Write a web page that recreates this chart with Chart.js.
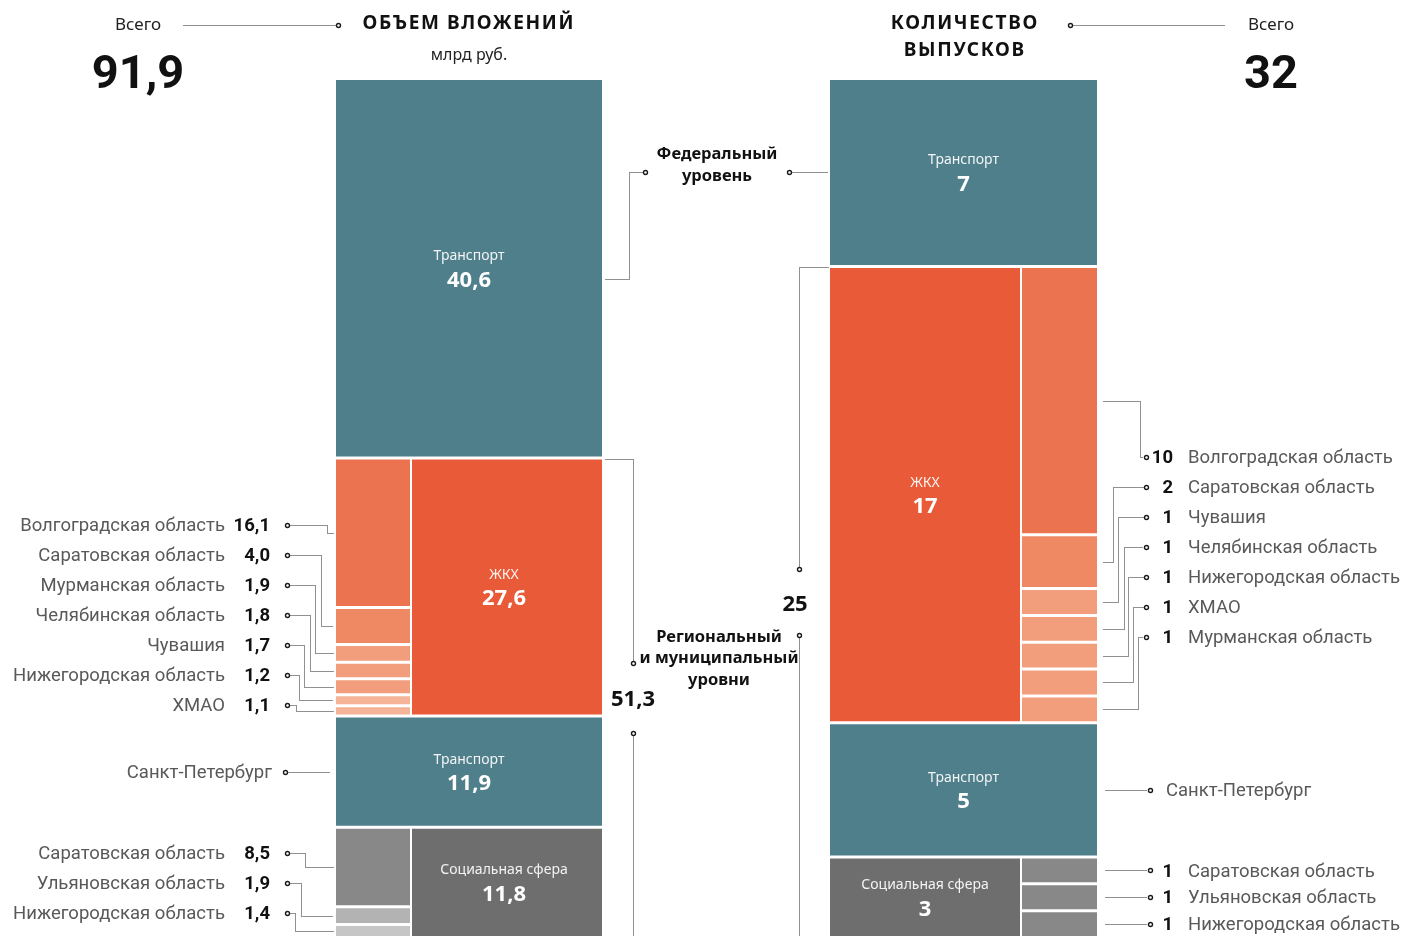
<!DOCTYPE html>
<html lang="ru">
<head>
<meta charset="utf-8">
<script src="https://cdn.jsdelivr.net/npm/chart.js@4/dist/chart.umd.min.js"></script>
<style>
  html, body { margin: 0; padding: 0; background: #fff; }
  #wrap { width: 1403px; height: 936px; overflow: hidden; position: relative; }
  canvas { display: block; }
</style>
</head>
<body>
<div id="wrap"><canvas id="c" width="1403" height="938"></canvas></div>
<script>
// ---------------- DATA ----------------
const sectors = ['Транспорт', 'ЖКХ', 'Транспорт', 'Социальная сфера'];
const investValues = [40.6, 27.6, 11.9, 11.8];   // млрд руб.
const issueValues = [7, 17, 5, 3];               // количество выпусков

const transportRegion = 'Санкт-Петербург';

const investHousingRegions = ['Волгоградская область', 'Саратовская область', 'Мурманская область',
  'Челябинская область', 'Чувашия', 'Нижегородская область', 'ХМАО'];
const investHousingValues = [16.1, 4.0, 1.9, 1.8, 1.7, 1.2, 1.1];

const investSocialRegions = ['Саратовская область', 'Ульяновская область', 'Нижегородская область'];
const investSocialValues = [8.5, 1.9, 1.4];

const issueHousingRegions = ['Волгоградская область', 'Саратовская область', 'Чувашия',
  'Челябинская область', 'Нижегородская область', 'ХМАО', 'Мурманская область'];
const issueHousingValues = [10, 2, 1, 1, 1, 1, 1];

const issueSocialRegions = ['Саратовская область', 'Ульяновская область', 'Нижегородская область'];
const issueSocialValues = [1, 1, 1];

// ---------------- STYLE / LAYOUT ----------------
const TEAL = '#507f8c', ORANGE = '#e85a38', GRAY = '#6e6e6e';
const housingShadesL = ['#ec7350', '#ef8964', '#f29e7d', '#f29e7d', '#f29e7d', '#f5b397', '#f5b397'];
const socialShadesL = ['#888888', '#b3b3b3', '#c6c6c6'];
const housingShadesR = ['#ec7350', '#ef8964', '#f29e7d', '#f29e7d', '#f29e7d', '#f29e7d', '#f29e7d'];
const socialShadesR = ['#888888', '#888888', '#888888'];

const L = { full: { x: 469, w: 266 }, narrow: { x: 373.5, w: 75 }, wide: { x: 506.5, w: 191 } };
const R = { full: { x: 963.5, w: 267 }, wide: { x: 925.5, w: 191 }, narrow: { x: 1059, w: 76 } };

function ranges(values) { let s = 0; return values.map(v => { const r = [s, s + v]; s += v; return r; }); }
function subRanges(parent, values) {
  const tot = values.reduce((a, b) => a + b, 0);
  const k = (parent[1] - parent[0]) / tot;
  let s = parent[0];
  return values.map(v => { const r = [s, s + v * k]; s += v * k; return r; });
}
const sum = a => a.reduce((x, y) => x + y, 0);
const fmt1 = v => v.toFixed(1).replace('.', ',');
const fmt0 = v => String(Math.round(v));

const invR = ranges(investValues);
const issR = ranges(issueValues);
const invHousR = subRanges(invR[1], investHousingValues);
const invSocR = subRanges(invR[3], investSocialValues);
const issHousR = subRanges(issR[1], issueHousingValues);
const issSocR = subRanges(issR[3], issueSocialValues);

const common = { stack: 'one', borderColor: '#ffffff', borderSkipped: false, inflateAmount: 0 };
const datasets = [
  { ...common, label: 'inv-full', yAxisID: 'yL', barThickness: L.full.w,
    data: [{ x: L.full.x, y: invR[0] }, { x: L.full.x, y: invR[2] }],
    backgroundColor: [TEAL, TEAL], borderWidth: { top: 1.5, bottom: 1.5, left: 0, right: 0 } },
  { ...common, label: 'inv-wide', yAxisID: 'yL', barThickness: L.wide.w,
    data: [{ x: L.wide.x, y: invR[1] }, { x: L.wide.x, y: invR[3] }],
    backgroundColor: [ORANGE, GRAY], borderWidth: { top: 1.5, bottom: 1.5, left: 1, right: 0 } },
  { ...common, label: 'inv-narrow', yAxisID: 'yL', barThickness: L.narrow.w,
    data: invHousR.concat(invSocR).map(r => ({ x: L.narrow.x, y: r })),
    backgroundColor: housingShadesL.concat(socialShadesL), borderWidth: { top: 1.5, bottom: 1.5, left: 0, right: 1 } },
  { ...common, label: 'iss-full', yAxisID: 'yR', barThickness: R.full.w,
    data: [{ x: R.full.x, y: issR[0] }, { x: R.full.x, y: issR[2] }],
    backgroundColor: [TEAL, TEAL], borderWidth: { top: 1.5, bottom: 1.5, left: 0, right: 0 } },
  { ...common, label: 'iss-wide', yAxisID: 'yR', barThickness: R.wide.w,
    data: [{ x: R.wide.x, y: issR[1] }, { x: R.wide.x, y: issR[3] }],
    backgroundColor: [ORANGE, GRAY], borderWidth: { top: 1.5, bottom: 1.5, left: 0, right: 1 } },
  { ...common, label: 'iss-narrow', yAxisID: 'yR', barThickness: R.narrow.w,
    data: issHousR.concat(issSocR).map(r => ({ x: R.narrow.x, y: r })),
    backgroundColor: housingShadesR.concat(socialShadesR), borderWidth: { top: 1.5, bottom: 1.5, left: 1, right: 0 } }
];

// ---------------- ANNOTATIONS ----------------
const F_SANS = '"Noto Sans", "Open Sans", sans-serif';
const F_ROBO = 'Roboto, "Noto Sans", sans-serif';

function txt(ctx, s, x, y, font, color, align, spacing) {
  ctx.save();
  ctx.font = font; ctx.fillStyle = color; ctx.textAlign = align || 'center'; ctx.textBaseline = 'middle';
  if (spacing) {
    ctx.letterSpacing = spacing + 'px';
    if (ctx.textAlign === 'center') x += spacing / 2;
  }
  ctx.fillText(s, x, y);
  ctx.restore();
}
function dotted(ctx, pts, color) {
  ctx.save();
  ctx.setLineDash([1, 1]); ctx.strokeStyle = color || '#222'; ctx.lineWidth = 1;
  ctx.beginPath();
  pts.forEach((p, i) => {
    const X = Math.round(p[0]) + 0.5, Y = Math.round(p[1]) + 0.5;
    i ? ctx.lineTo(X, Y) : ctx.moveTo(X, Y);
  });
  ctx.stroke();
  ctx.restore();
}
function dot(ctx, x, y) {
  ctx.save();
  ctx.beginPath(); ctx.arc(Math.round(x) + 0.5, Math.round(y) + 0.5, 2, 0, Math.PI * 2);
  ctx.fillStyle = '#fff'; ctx.fill();
  ctx.lineWidth = 1.4; ctx.strokeStyle = '#1a1a1a'; ctx.stroke();
  ctx.restore();
}
const mid = (scale, r) => scale.getPixelForValue((r[0] + r[1]) / 2);

const annot = {
  id: 'annot',
  afterDraw(chart) {
    const ctx = chart.ctx;
    const yL = chart.scales.yL, yR = chart.scales.yR;
    const NAME = '18.5px ' + F_ROBO, VAL = 'bold 18.5px ' + F_ROBO;
    const NAMEC = '#595959', VALC = '#111';
    const d = 1.5; // vertical optical offset for label text

    // headers
    txt(ctx, 'Всего', 138, 25, '17px ' + F_SANS, '#222');
    txt(ctx, fmt1(sum(investValues)), 138, 76, 'bold 47px ' + F_ROBO, '#111');
    dotted(ctx, [[183, 25], [336, 25]]); dot(ctx, 338, 25);
    txt(ctx, 'ОБЪЕМ ВЛОЖЕНИЙ', 468, 24, 'bold 19px ' + F_SANS, '#111', 'center', 1.6);
    txt(ctx, 'млрд руб.', 469, 55, '16px ' + F_SANS, '#222');

    txt(ctx, 'КОЛИЧЕСТВО', 964, 24, 'bold 19px ' + F_SANS, '#111', 'center', 1.7);
    txt(ctx, 'ВЫПУСКОВ', 964, 51, 'bold 19px ' + F_SANS, '#111', 'center', 1.7);
    dot(ctx, 1070, 25); dotted(ctx, [[1073, 25], [1225, 25]]);
    txt(ctx, 'Всего', 1271, 25, '17px ' + F_SANS, '#222');
    txt(ctx, fmt0(sum(issueValues)), 1271, 76, 'bold 47px ' + F_ROBO, '#111');

    // block labels
    const blockLabel = (name, value, x, y) => {
      txt(ctx, name, x, y - 12, '14px ' + F_SANS, 'rgba(255,255,255,0.92)');
      txt(ctx, value, x, y + 12, 'bold 22px ' + F_SANS, '#fff');
    };
    blockLabel(sectors[0], fmt1(investValues[0]), L.full.x, mid(yL, invR[0]));
    blockLabel(sectors[1], fmt1(investValues[1]), 504, mid(yL, invR[1]));
    blockLabel(sectors[2], fmt1(investValues[2]), L.full.x, mid(yL, invR[2]));
    blockLabel(sectors[3], fmt1(investValues[3]), 504, mid(yL, invR[3]));
    blockLabel(sectors[0], fmt0(issueValues[0]), R.full.x, mid(yR, issR[0]));
    blockLabel(sectors[1], fmt0(issueValues[1]), 925, mid(yR, issR[1]));
    blockLabel(sectors[2], fmt0(issueValues[2]), R.full.x, mid(yR, issR[2]));
    blockLabel(sectors[3], fmt0(issueValues[3]), 925, mid(yR, issR[3]));

    // federal level
    const fedY = mid(yR, issR[0]);
    txt(ctx, 'Федеральный', 717, 154, 'bold 16.5px ' + F_SANS, '#111');
    txt(ctx, 'уровень', 717, 176, 'bold 16.5px ' + F_SANS, '#111');
    dotted(ctx, [[605, 279], [629, 279], [629, fedY], [643, fedY]]); dot(ctx, 645, fedY);
    dot(ctx, 789, fedY); dotted(ctx, [[792, fedY], [828, fedY]]);

    // regional level
    const regL = yL.getPixelForValue(invR[1][0]) + 1;
    const regR = yR.getPixelForValue(issR[1][0]) + 1;
    txt(ctx, 'Региональный', 719, 637, 'bold 16.5px ' + F_SANS, '#111');
    txt(ctx, 'и муниципальный', 719, 658, 'bold 16.5px ' + F_SANS, '#111');
    txt(ctx, 'уровни', 719, 680, 'bold 16.5px ' + F_SANS, '#111');
    txt(ctx, fmt1(sum(investValues.slice(1))), 633, 700, 'bold 22px ' + F_SANS, '#111');
    txt(ctx, fmt0(sum(issueValues.slice(1))), 795, 605, 'bold 22px ' + F_SANS, '#111');
    dotted(ctx, [[605, regL], [633, regL], [633, 661]]); dot(ctx, 633, 663);
    dot(ctx, 633, 733); dotted(ctx, [[633, 736], [633, 940]]);
    dotted(ctx, [[828, regR], [799, regR], [799, 567]]); dot(ctx, 799, 569);
    dot(ctx, 799, 635); dotted(ctx, [[799, 638], [799, 940]]);

    // left: housing regions
    const elbowL = [327, 321, 315, 310, 304, 299, 296];
    investHousingRegions.forEach((n, i) => {
      const y = 525 + 30 * i, c = mid(yL, invHousR[i]);
      txt(ctx, n, 225, y + d, NAME, NAMEC, 'right');
      txt(ctx, fmt1(investHousingValues[i]), 270, y + d, VAL, VALC, 'right');
      dot(ctx, 287, y);
      dotted(ctx, [[290, y], [elbowL[i], y], [elbowL[i], c], [333, c]]);
    });
    // left: transport region
    const spbL = mid(yL, invR[2]);
    txt(ctx, transportRegion, 272, spbL + d, NAME, NAMEC, 'right');
    dot(ctx, 285, spbL); dotted(ctx, [[288, spbL], [330, spbL]]);
    // left: social regions
    const elbowLS = [305, 301, 295];
    investSocialRegions.forEach((n, i) => {
      const y = 853 + 30 * i, c = mid(yL, invSocR[i]);
      txt(ctx, n, 225, y + d, NAME, NAMEC, 'right');
      txt(ctx, fmt1(investSocialValues[i]), 270, y + d, VAL, VALC, 'right');
      dot(ctx, 287, y);
      dotted(ctx, [[290, y], [elbowLS[i], y], [elbowLS[i], c], [333, c]]);
    });

    // right: housing regions
    const elbowR = [1140, 1113, 1118, 1124, 1128, 1133, 1138];
    issueHousingRegions.forEach((n, i) => {
      const y = 457 + 30 * i, c = mid(yR, issHousR[i]);
      txt(ctx, fmt0(issueHousingValues[i]), 1173, y + d, VAL, VALC, 'right');
      txt(ctx, n, 1188, y + d, NAME, NAMEC, 'left');
      dotted(ctx, [[1103, c], [elbowR[i], c], [elbowR[i], y], [1143, y]]);
      dot(ctx, 1146, y);
    });
    // right: transport region
    const spbR = mid(yR, issR[2]);
    dotted(ctx, [[1105, spbR], [1147, spbR]]); dot(ctx, 1150, spbR);
    txt(ctx, transportRegion, 1166, spbR + d, NAME, NAMEC, 'left');
    // right: social regions
    issueSocialRegions.forEach((n, i) => {
      const c = mid(yR, issSocR[i]);
      dotted(ctx, [[1105, c], [1147, c]]); dot(ctx, 1150, c);
      txt(ctx, fmt0(issueSocialValues[i]), 1173, c + d, VAL, VALC, 'right');
      txt(ctx, n, 1188, c + d, NAME, NAMEC, 'left');
    });
  }
};

new Chart(document.getElementById('c'), {
  type: 'bar',
  data: { datasets },
  options: {
    responsive: false,
    animation: false,
    events: [],
    layout: { padding: { top: 78.5, bottom: 0.5, left: 0, right: 0 } },
    plugins: { legend: { display: false }, tooltip: { enabled: false } },
    scales: {
      x: { type: 'linear', min: 0, max: 1403, display: false, offset: false },
      yL: { type: 'linear', position: 'left', reverse: true, min: 0, max: sum(investValues), display: false, stacked: false },
      yR: { type: 'linear', position: 'right', reverse: true, min: 0, max: sum(issueValues), display: false, stacked: false }
    }
  },
  plugins: [annot]
});
</script>
</body>
</html>
